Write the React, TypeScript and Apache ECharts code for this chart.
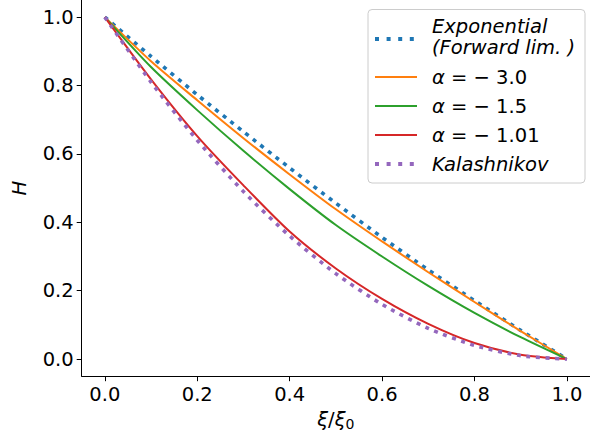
import React, { useEffect, useRef } from "react";
import * as echarts from "echarts";

const xi = [0, 0.1, 0.2, 0.3, 0.4, 0.5, 0.6, 0.7, 0.8, 0.9, 1.0];
const exponential = [1, 0.885, 0.773, 0.665, 0.559, 0.456, 0.356, 0.261, 0.171, 0.084, 0];
const alphaM30 = [1, 0.871, 0.757, 0.646, 0.54, 0.438, 0.344, 0.254, 0.167, 0.082, 0];
const alphaM15 = [1, 0.854, 0.728, 0.609, 0.497, 0.392, 0.3, 0.214, 0.135, 0.064, 0];
const alphaM101 = [1, 0.818, 0.652, 0.508, 0.373, 0.265, 0.176, 0.103, 0.047, 0.013, 0];
const kalashnikov = [1, 0.81, 0.64, 0.49, 0.36, 0.25, 0.16, 0.09, 0.04, 0.01, 0];
const ticks = [0, 0.2, 0.4, 0.6, 0.8, 1.0];

const FONT = "DejaVu Sans";
const FS = 19.5;

const pair = (ys: number[]) => xi.map((x, i) => [x, ys[i]]);

export default function App() {
  const ref = useRef<HTMLDivElement>(null);
  useEffect(() => {
    if (!ref.current) return;
    const chart = echarts.init(ref.current, null, { renderer: "svg" });
    const axisCommon = {
      type: "value" as const,
      min: -0.05,
      max: 1.05,
      splitLine: { show: false },
      axisLine: { show: true, onZero: false, lineStyle: { color: "#000", width: 1 } },
      axisTick: { show: true, customValues: ticks, length: 5, lineStyle: { color: "#000", width: 1 } },
      axisLabel: {
        customValues: ticks,
        formatter: (v: number) => v.toFixed(1),
        fontSize: FS,
        fontFamily: FONT,
        color: "#000",
      },
    };
    const lineSeries = (name: string, data: number[], color: string, dotted: boolean) => ({
      name,
      type: "line",
      data: pair(data),
      smooth: 0.25,
      showSymbol: false,
      symbol: "none",
      lineStyle: dotted
        ? { color, width: 3.6, type: [4, 5.6], cap: "butt" }
        : { color, width: 2 },
    });
    const legendY = [39, 77, 106, 135, 164];
    const legendColors = ["#1f77b4", "#ff7f0e", "#2ca02c", "#d62728", "#9467bd"];
    const legendDotted = [true, false, false, false, true];
    const handles: any[] = legendY.map((y, i) => ({
      type: "line",
      shape: { x1: 375, y1: y, x2: 417, y2: y },
      style: legendDotted[i]
        ? { stroke: legendColors[i], lineWidth: 4, lineDash: [4, 7.6] }
        : { stroke: legendColors[i], lineWidth: 2 },
      z: 101,
    }));
    const txt = (y: number, rich: string, italic: boolean) => ({
      type: "text",
      x: 432,
      y,
      z: 101,
      style: {
        text: rich,
        fontSize: FS,
        fontFamily: FONT,
        fontStyle: italic ? "italic" : "normal",
        fill: "#000",
        verticalAlign: "middle",
        align: "left",
        rich: {
          i: { fontSize: FS, fontFamily: FONT, fontStyle: "italic", fill: "#000" },
          n: { fontSize: FS, fontFamily: FONT, fill: "#000" },
        },
      },
    });
    chart.setOption({
      animation: false,
      grid: { left: 81.7, right: -5, top: -1.5, bottom: 61.8, containLabel: false },
      xAxis: {
        ...axisCommon,
        name: "{i|ξ}/{i|ξ}{s|0}",
        nameLocation: "middle",
        nameGap: 30,
        nameTextStyle: {
          fontSize: FS,
          fontFamily: FONT,
          color: "#000",
          rich: {
            i: { fontSize: FS, fontFamily: FONT, fontStyle: "italic", color: "#000" },
            s: { fontSize: 14, fontFamily: FONT, color: "#000", padding: [10, 0, 0, 0] },
          },
        },
      },
      yAxis: {
        ...axisCommon,
        name: "H",
        nameLocation: "middle",
        nameRotate: 90,
        nameGap: 52,
        nameTextStyle: { fontSize: FS, fontFamily: FONT, fontStyle: "italic", color: "#000" },
      },
      series: [
        lineSeries("Exponential (Forward lim.)", exponential, "#1f77b4", true),
        lineSeries("α = −3.0", alphaM30, "#ff7f0e", false),
        lineSeries("α = −1.5", alphaM15, "#2ca02c", false),
        lineSeries("α = −1.01", alphaM101, "#d62728", false),
        lineSeries("Kalashnikov", kalashnikov, "#9467bd", true),
      ],
      graphic: [
        {
          type: "rect",
          shape: { x: 368, y: 9.5, width: 217, height: 173.5, r: 4 },
          style: { fill: "rgba(255,255,255,0.8)", stroke: "#cccccc", lineWidth: 1 },
          z: 100,
        },
        ...handles,
        txt(26, "Exponential", true),
        txt(47, "(Forward lim. )", true),
        txt(77, "{i|α} = − 3.0", false),
        txt(106, "{i|α} = − 1.5", false),
        txt(135, "{i|α} = − 1.01", false),
        txt(164, "Kalashnikov", true),
      ],
    });
    return () => chart.dispose();
  }, []);
  return (
    <div
      ref={ref}
      style={{ position: "absolute", left: 0, top: 0, width: 590, height: 438 }}
    />
  );
}
